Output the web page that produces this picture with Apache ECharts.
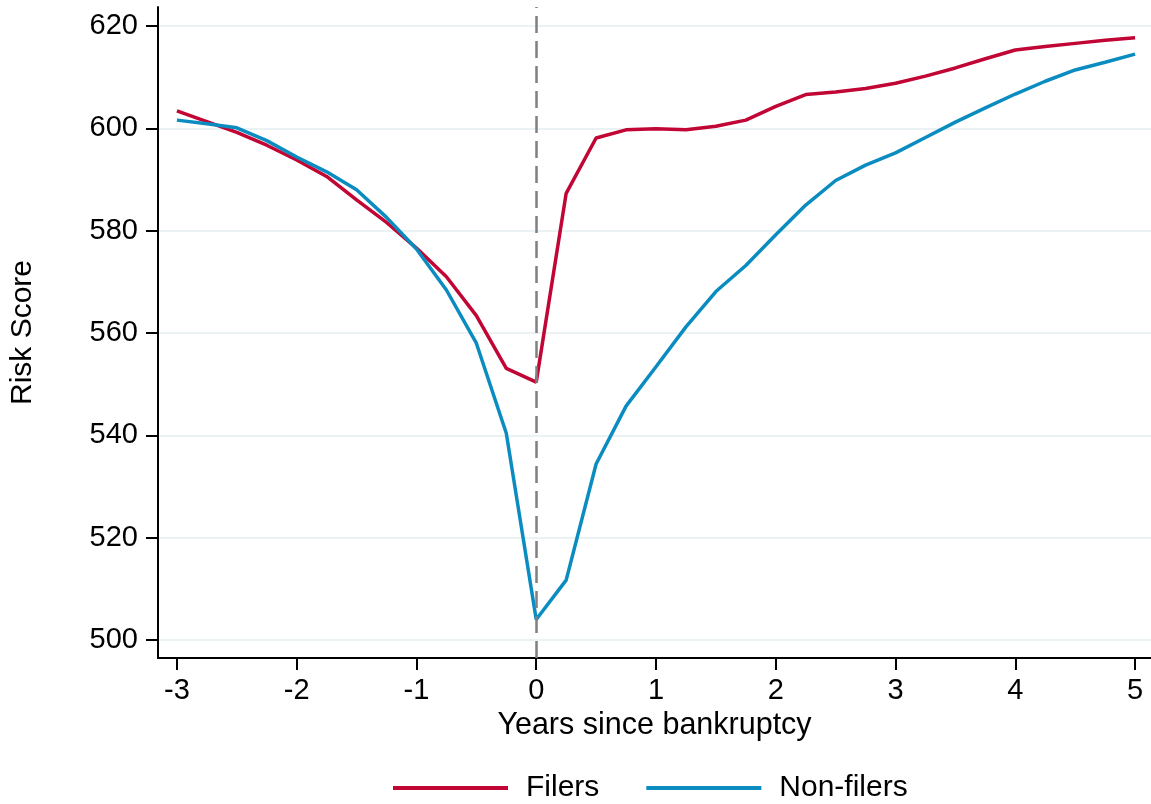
<!DOCTYPE html>
<html>
<head>
<meta charset="utf-8">
<script src="https://cdn.jsdelivr.net/npm/echarts@6/dist/echarts.min.js"></script>
<style>
html,body{margin:0;padding:0;background:#fff;}
#chart{width:1151px;height:804px;}
</style>
</head>
<body>
<div id="chart"></div>
<script>
const years = [-3, -2.75, -2.5, -2.25, -2, -1.75, -1.5, -1.25, -1, -0.75, -0.5, -0.25, 0,
  0.25, 0.5, 0.75, 1, 1.25, 1.5, 1.75, 2, 2.25, 2.5, 2.75, 3, 3.25, 3.5, 3.75, 4, 4.25, 4.5, 4.75, 5];
const filers = [603.4, 601.3, 599.2, 596.7, 593.8, 590.6, 586.0, 581.6, 576.6, 571.0, 563.4, 553.1, 550.4,
  587.3, 598.1, 599.7, 599.9, 599.7, 600.4, 601.6, 604.3, 606.6, 607.1, 607.8, 608.8, 610.2, 611.8, 613.6, 615.3, 616.0, 616.6, 617.2, 617.7];
const nonFilers = [601.6, 600.9, 600.1, 597.6, 594.4, 591.5, 588.0, 582.6, 576.4, 568.4, 558.0, 540.4, 504.0,
  511.7, 534.4, 545.7, 553.4, 561.2, 568.1, 573.2, 579.2, 585.0, 589.8, 592.8, 595.2, 598.2, 601.2, 604.0, 606.7, 609.2, 611.4, 612.9, 614.5];
const xTicks = [-3, -2, -1, 0, 1, 2, 3, 4, 5];
const yTicks = [500, 520, 540, 560, 580, 600, 620];
const seriesNames = ['Filers', 'Non-filers'];

const FONT = 'Liberation Sans';
const chart = echarts.init(document.getElementById('chart'), null, {renderer: 'canvas'});
chart.setOption({
  backgroundColor: '#ffffff',
  animation: false,
  textStyle: {fontFamily: FONT},
  grid: {left: 157, right: 0, top: 7, bottom: 146, containLabel: false},
  legend: {
    data: seriesNames.map(n => ({name: n, icon: 'rect'})),
    left: 388, top: 768,
    itemWidth: 115, itemHeight: 4, itemGap: 47,
    textStyle: {fontFamily: FONT, fontSize: 30, color: '#000', padding: [0, 0, 0, 13]}
  },
  xAxis: {
    type: 'value',
    min: -3.158, max: 5.133,
    name: 'Years since bankruptcy',
    nameLocation: 'middle', nameGap: 47,
    nameTextStyle: {fontFamily: FONT, fontSize: 30.5, color: '#000'},
    axisLine: {show: true, onZero: false, lineStyle: {color: '#000', width: 2}},
    axisTick: {show: true, length: 12, lineStyle: {color: '#000', width: 2}, customValues: xTicks},
    axisLabel: {customValues: xTicks, margin: 18, fontFamily: FONT, fontSize: 29, color: '#000'},
    splitLine: {show: false}
  },
  yAxis: {
    type: 'value',
    min: 496.48, max: 623.71,
    name: 'Risk Score',
    nameLocation: 'middle', nameGap: 120, nameRotate: 90,
    nameTextStyle: {fontFamily: FONT, fontSize: 30, color: '#000'},
    axisLine: {show: true, onZero: false, lineStyle: {color: '#000', width: 2}},
    axisTick: {show: true, length: 12, lineStyle: {color: '#000', width: 2}, customValues: yTicks},
    axisLabel: {customValues: yTicks, margin: 20, fontFamily: FONT, fontSize: 29, color: '#000'},
    splitLine: {show: true, lineStyle: {color: '#eaf2f3', width: 2}}
  },
  series: [
    {
      name: seriesNames[0], type: 'line', showSymbol: false,
      data: years.map((x, i) => [x, filers[i]]),
      lineStyle: {color: '#c10534', width: 3.5}, itemStyle: {color: '#c10534'},
      z: 3,
      markLine: {
        silent: true, symbol: 'none', label: {show: false},
        lineStyle: {color: '#808080', type: [17, 8], width: 2.5},
        data: [{xAxis: 0}]
      }
    },
    {
      name: seriesNames[1], type: 'line', showSymbol: false,
      data: years.map((x, i) => [x, nonFilers[i]]),
      lineStyle: {color: '#0a8cc1', width: 3.5}, itemStyle: {color: '#0a8cc1'},
      z: 4
    }
  ]
});
</script>
</body>
</html>
